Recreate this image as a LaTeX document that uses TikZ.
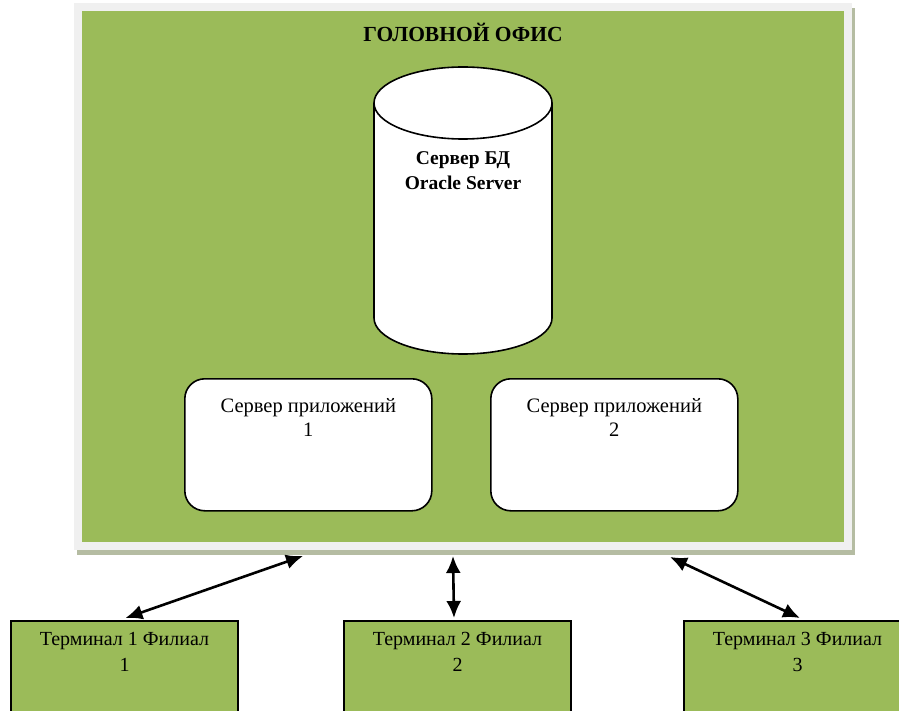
\documentclass[tikz,border=0pt]{standalone}
\usepackage{fontspec}
\setmainfont{Liberation Serif}
\usetikzlibrary{arrows.meta}
\definecolor{officegreen}{HTML}{9BBB59}
\definecolor{framegray}{HTML}{F0F0F0}
\definecolor{frameshadow}{HTML}{B5BCA2}
\tikzset{
  appbox/.style={draw=black, line width=1.6pt, fill=white, rounded corners=20pt,
    minimum width=247pt, minimum height=132pt, anchor=north west, inner sep=0pt},
  termbox/.style={draw=black, line width=2pt, fill=officegreen,
    minimum width=227pt, minimum height=110pt, anchor=north west, inner sep=0pt},
  apptext/.style={align=center, font=\fontsize{20.5}{24}\selectfont, inner sep=0pt},
  termtext/.style={align=center, font=\fontsize{20}{26}\selectfont, inner sep=0pt},
  link/.style={line width=2.6pt, {Latex[length=17pt,width=15pt]}-{Latex[length=17pt,width=15pt]}}
}
\begin{document}
\begin{tikzpicture}[x=1pt,y=-1pt]
  \useasboundingbox (0,0) rectangle (899,711);
  \clip (0,0) rectangle (899,711);

  % head office frame with its drop shadow
  \fill[frameshadow] (77,8) rectangle (855,555);
  \fill[framegray] (74,3) rectangle (852,550);
  \node[fill=officegreen, minimum width=762pt, minimum height=531pt, anchor=north west,
        inner sep=0pt] (office) at (82,11) {};
  \node[font=\bfseries\fontsize{21.5}{24}\selectfont] (title) at (463,32) {ГОЛОВНОЙ ОФИС};

  % database server drawn as a cylinder
  \draw[line width=1.6pt, fill=white] (374,103) -- (374,318)
     arc[start angle=180, end angle=360, x radius=89pt, y radius=36pt] -- (552,103);
  \draw[line width=1.6pt, fill=white] (463,103) ellipse [x radius=89pt, y radius=36pt];
  \node[align=center, inner sep=0pt, font=\bfseries\fontsize{19.5}{25}\selectfont] (db)
     at (463,171) {Сервер БД\\Oracle Server};

  % application servers
  \node[appbox, label={[apptext, anchor=north, yshift=-20pt]north:{Сервер приложений\\1}}]
     (app1) at (184,378) {};
  \node[appbox, label={[apptext, anchor=north, yshift=-20pt]north:{Сервер приложений\\2}}]
     (app2) at (490,378) {};

  % branch terminals
  \node[termbox, label={[termtext, anchor=north, yshift=-12pt]north:{Терминал 1 Филиал\\1}}]
     (term1) at (10,620) {};
  \node[termbox, label={[termtext, anchor=north, yshift=-12pt]north:{Терминал 2 Филиал\\2}}]
     (term2) at (343,620) {};
  \node[termbox, label={[termtext, anchor=north, yshift=-12pt]north:{Терминал 3 Филиал\\3}}]
     (term3) at (683,620) {};

  % connection points under the frame and on the terminals
  \coordinate (in1) at (303,556);
  \coordinate (in2) at (453,556);
  \coordinate (in3) at (670,557);
  \coordinate (t1) at ([xshift=1pt,yshift=2pt]term1.north);
  \coordinate (t2) at ([xshift=-3.5pt,yshift=2pt]term2.north);
  \coordinate (t3) at ([xshift=117pt,yshift=2pt]term3.north west);

  \draw[link] (t1) -- (in1);
  \draw[link] (t2) -- (in2);
  \draw[link] (t3) -- (in3);
\end{tikzpicture}
\end{document}
